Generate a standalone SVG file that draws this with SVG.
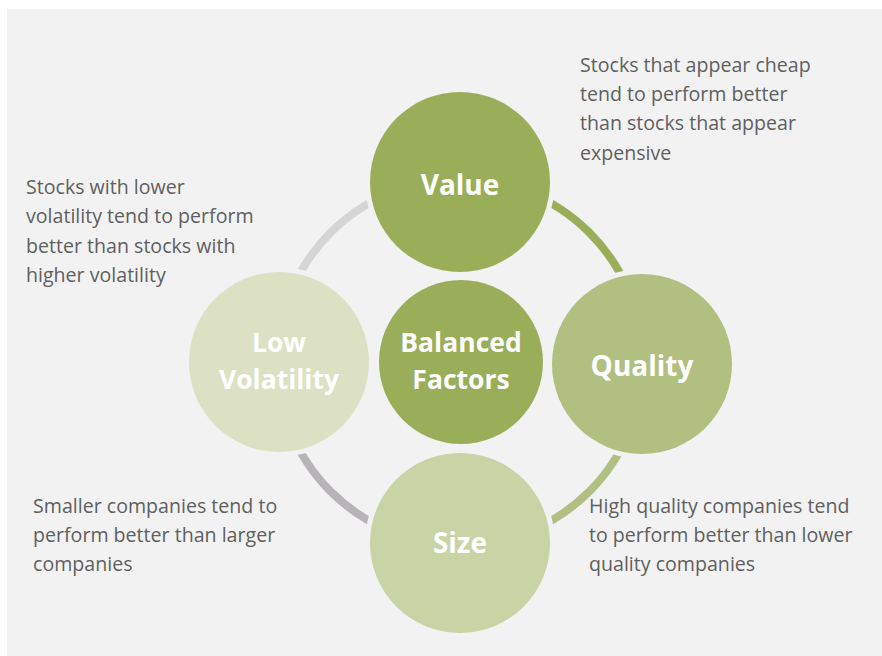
<svg xmlns="http://www.w3.org/2000/svg" width="882" height="656" viewBox="0 0 882 656">
<style>
.desc{font-family:"Open Sans","Liberation Sans",sans-serif;font-size:19.6px;fill:#5f5f5f}
.lbl{font-family:"Open Sans","Liberation Sans",sans-serif;font-size:28px;font-weight:bold;fill:#ffffff;text-anchor:middle}
.lbl2{font-family:"Open Sans","Liberation Sans",sans-serif;font-size:26.5px;font-weight:bold;fill:#ffffff;text-anchor:middle}
.node{stroke:#f2f2f2;stroke-width:10;paint-order:stroke}
.arc{fill:none;stroke-width:8}
</style>
<rect x="0" y="0" width="882" height="656" fill="#ffffff"/>
<rect x="7" y="9" width="875" height="647" fill="#f2f2f2"/>
<g id="connectors">
<path class="arc" stroke="#d5d5d5" d="M 277 362 A 183 183 0 0 1 460 179"/>
<path class="arc" stroke="#9aae5a" d="M 460 179 A 183 183 0 0 1 643 362"/>
<path class="arc" stroke="#b1bf82" d="M 643 362 A 183 183 0 0 1 460 545"/>
<path class="arc" stroke="#b6b4b6" d="M 460 545 A 183 183 0 0 1 277 362"/>
</g>
<g id="value">
<circle class="node" cx="460" cy="182" r="90" fill="#9aae5a"/>
<text class="lbl" x="460" y="195">Value</text>
</g>
<g id="quality">
<circle class="node" cx="642" cy="364" r="90" fill="#b1bf80"/>
<text class="lbl" x="642" y="376">Quality</text>
</g>
<g id="size">
<circle class="node" cx="460" cy="543" r="90" fill="#c8d3a6"/>
<text class="lbl" x="460" y="553">Size</text>
</g>
<g id="lowvol">
<circle class="node" cx="279" cy="362" r="90" fill="#dce1c3"/>
<text class="lbl2" x="279" y="352">Low</text>
<text class="lbl2" x="279" y="389">Volatility</text>
</g>
<g id="balanced">
<circle class="node" cx="461" cy="362" r="82" fill="#9aae5a"/>
<text class="lbl2" x="461" y="352">Balanced</text>
<text class="lbl2" x="461" y="389">Factors</text>
</g>
<g id="desc-value">
<text class="desc" x="580" y="72">Stocks that appear cheap</text>
<text class="desc" x="580" y="101">tend to perform better</text>
<text class="desc" x="580" y="130">than stocks that appear</text>
<text class="desc" x="580" y="160">expensive</text>
</g>
<g id="desc-lowvol">
<text class="desc" x="26" y="194">Stocks with lower</text>
<text class="desc" x="26" y="223">volatility tend to perform</text>
<text class="desc" x="26" y="253">better than stocks with</text>
<text class="desc" x="26" y="282">higher volatility</text>
</g>
<g id="desc-size">
<text class="desc" x="33" y="513">Smaller companies tend to</text>
<text class="desc" x="33" y="542">perform better than larger</text>
<text class="desc" x="33" y="571">companies</text>
</g>
<g id="desc-quality">
<text class="desc" x="589" y="513">High quality companies tend</text>
<text class="desc" x="589" y="542">to perform better than lower</text>
<text class="desc" x="589" y="571">quality companies</text>
</g>
</svg>
